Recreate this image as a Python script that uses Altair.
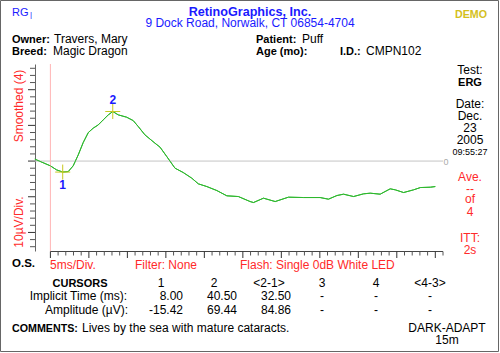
import altair as alt
import pandas as pd

# ---- waveform (ms, µV) ----
time_ms = [-10.1, 0.0, 4.0, 8.0, 11.6, 14.8, 18.1, 21.3, 24.6, 27.8, 31.1, 34.3, 37.6, 40.5, 44.1,
           49.5, 53.8, 57.1, 61.4, 67.9, 71.2, 75.6, 80.9, 86.3, 91.8, 96.1, 101.6, 108.1, 114.6,
           122.1, 129.7, 131.9, 138.4, 146.0, 154.6, 164.4, 175.2, 180.6, 186.1, 190.4, 196.9,
           203.4, 207.7, 214.2, 220.7, 224.0, 229.4, 235.9, 240.3, 246.8, 250.0]
amp_uv = [2.7, -6.7, -12.3, -15.42, -14.7, -6.7, 8.7, 25.9, 39.9, 46.1, 50.7, 57.7, 64.7, 69.44,
          64.7, 61.5, 56.7, 48.3, 36.7, 25.1, 19.5, 6.3, -9.9, -16.1, -23.9, -31.9, -35.7, -41.3,
          -48.7, -49.7, -56.7, -58.1, -52.0, -56.7, -50.6, -51.1, -51.1, -53.4, -48.3, -46.4,
          -49.7, -45.9, -45.0, -46.4, -38.9, -40.3, -44.1, -40.3, -37.1, -36.6, -35.7]

# ---- cursors ----
cursor_ids = ["1", "2"]
cursor_time = [8.00, 40.50]
cursor_amp = [-15.42, 69.44]

# ---- table ----
table_cols = ["1", "2", "<2-1>", "3", "4", "<4-3>"]
implicit_row = ["8.00", "40.50", "32.50", "-", "-", "-"]
amplitude_row = ["-15.42", "69.44", "84.86", "-", "-", "-"]

# ---- ticks: 5 ms/div, 10 µV/div ----
x_minor = [t for t in range(0, 256, 5) if t % 25 != 0]
x_major = [t for t in range(0, 256, 25)]
y_minor = [v for v in range(-120, 131, 10) if v % 50 != 0]
y_major = [v for v in range(-100, 131, 50)]

BLUE = "#1a1aff"
RED = "#ff2a2a"
FONT = "Liberation Sans"
OX, OY = 35, 64
H = 187

wave = pd.DataFrame({"t": time_ms, "a": amp_uv})
cur = pd.DataFrame({"id": cursor_ids, "t": cursor_time, "a": cursor_amp})
one = pd.DataFrame({"k": [0]})

xenc = alt.X("t:Q", scale=alt.Scale(domain=[-10, 255], nice=False, zero=False),
             axis=alt.Axis(labels=False, ticks=False, title=None, domain=False, grid=False))
yenc = alt.Y("a:Q", scale=alt.Scale(domain=[-126, 136], nice=False, zero=False),
             axis=alt.Axis(labels=False, ticks=False, title=None, domain=True, domainColor="#666", grid=False))


def txt(s, x, y, size=12, color="#000", weight="normal", align="left", baseline="alphabetic", angle=0):
    kw = dict(text=s, fontSize=size, color=color, fontWeight=weight, align=align,
              baseline=baseline, font=FONT)
    if angle:
        kw["angle"] = angle
    return alt.Chart(one).mark_text(**kw).encode(x=alt.value(x - OX), y=alt.value(y - OY))


layers = []
# waveform first (defines axes)
layers.append(alt.Chart(wave).mark_line(color="#2eb82e", strokeWidth=1).encode(x=xenc, y=yenc))
# border
layers.append(alt.Chart(one).mark_rect(fillOpacity=0, stroke="#666", strokeWidth=1).encode(
    x=alt.value(0.5 - OX), x2=alt.value(498.5 - OX), y=alt.value(0.5 - OY), y2=alt.value(351.5 - OY)))
# zero line & stimulus line
layers.append(alt.Chart(one).mark_rule(color="#c4c4c4", strokeWidth=1).encode(y=alt.datum(0)))
layers.append(alt.Chart(one).mark_rule(color="#ffb4b4", strokeWidth=1).encode(x=alt.datum(0)))
# x axis line from t=0
layers.append(alt.Chart(one).mark_rule(color="#444", strokeWidth=1).encode(
    x=alt.datum(0), x2=alt.datum(255), y=alt.value(H + 0.5)))
# tick marks
layers.append(alt.Chart(pd.DataFrame({"t": x_minor})).mark_rule(color="#555").encode(
    x=xenc, y=alt.value(H + 0.5), y2=alt.value(H + 4.5)))
layers.append(alt.Chart(pd.DataFrame({"t": x_major})).mark_rule(color="#333").encode(
    x=xenc, y=alt.value(H + 0.5), y2=alt.value(H + 7)))
layers.append(alt.Chart(pd.DataFrame({"a": y_minor})).mark_rule(color="#555").encode(
    y=yenc, x=alt.value(-5), x2=alt.value(0)))
layers.append(alt.Chart(pd.DataFrame({"a": y_major})).mark_rule(color="#333").encode(
    y=yenc, x=alt.value(-7), x2=alt.value(0)))
# redraw waveform on top of grey lines
layers.append(alt.Chart(wave).mark_line(color="#2eb82e", strokeWidth=1).encode(x=xenc, y=yenc))
# cursors
layers.append(alt.Chart(cur).mark_point(shape="M-1,0L1,0M0,-1L0,1", size=225, filled=False,
                                        color="#c8c81e", strokeWidth=1, opacity=1).encode(x=xenc, y=yenc))
layers.append(alt.Chart(cur[cur.id == "1"]).mark_text(fontSize=12, fontWeight="bold", color=BLUE, font=FONT,
                                                      dy=13).encode(x=xenc, y=yenc, text="id:N"))
layers.append(alt.Chart(cur[cur.id == "2"]).mark_text(fontSize=12, fontWeight="bold", color=BLUE, font=FONT,
                                                      dy=-12).encode(x=xenc, y=yenc, text="id:N"))

# header
layers += [
    txt("RG", 12, 16, size=11, color=BLUE),
    txt("|", 30, 17, size=8, color=BLUE),
    txt("RetinoGraphics, Inc.", 250, 16, size=12.6, color=BLUE, weight="bold", align="center"),
    txt("9 Dock Road, Norwalk, CT 06854-4704", 250, 27, size=12, color=BLUE, align="center"),
    txt("DEMO", 471, 18, size=10.7, color="#d4c01c", weight="bold", align="center"),
    txt("Owner:", 12, 43, size=11, weight="bold"), txt("Travers, Mary", 54, 43),
    txt("Breed:", 12, 55, size=11, weight="bold"), txt("Magic Dragon", 53, 55),
    txt("Patient:", 256, 43, size=11, weight="bold"), txt("Puff", 302, 43),
    txt("Age (mo):", 256, 55, size=11, weight="bold"),
    txt("I.D.:", 340, 55, size=11, weight="bold"), txt("CMPN102", 366, 55),
]
# right panel
layers += [
    txt("Test:", 470, 74, align="center"),
    txt("ERG", 470, 86, size=11, weight="bold", align="center"),
    txt("Date:", 470, 108, align="center"),
    txt("Dec.", 470, 120, align="center"),
    txt("23", 470, 132, align="center"),
    txt("2005", 470, 144, align="center"),
    txt("09:55:27", 470, 155, size=9, align="center"),
    txt("0", 446, 165, size=9, color="#aaa", align="center"),
    txt("Ave.", 470, 181, color=RED, align="center"),
    txt("--", 470, 193, color=RED, align="center"),
    txt("of", 470, 203, color=RED, align="center"),
    txt("4", 470, 216, color=RED, align="center"),
    txt("ITT:", 470, 242, color=RED, align="center"),
    txt("2s", 470, 254, color=RED, align="center"),
]
# y labels
layers += [
    txt("Smoothed (4)", 19, 106, color=RED, align="center", baseline="middle", angle=270),
    txt("10µV/Div.", 19, 222, color=RED, align="center", baseline="middle", angle=270),
]
# bottom
layers += [
    txt("O.S.", 12, 267, size=11.5, weight="bold"),
    txt("5ms/Div.", 50, 269, color=RED),
    txt("Filter: None", 135, 269, color=RED),
    txt("Flash: Single 0dB White LED", 240, 269, color=RED),
    txt("CURSORS", 80, 287, size=11, weight="bold", align="center"),
    txt("Implicit Time (ms):", 127, 300, align="right"),
    txt("Amplitude (µV):", 128, 314, align="right"),
    txt("COMMENTS:", 12, 332, size=10.7, weight="bold"),
    txt("Lives by the sea with mature cataracts.", 82, 332),
    txt("DARK-ADAPT", 447, 332, align="center"),
    txt("15m", 447, 344, align="center"),
]
head_x = [161, 214, 269, 322, 376, 430]
val_x = [183, 237, 291, 322, 376, 430]
for i, c in enumerate(table_cols):
    layers.append(txt(c, head_x[i], 287, align="center"))
    al = "right" if implicit_row[i] != "-" else "center"
    layers.append(txt(implicit_row[i], val_x[i], 300, align=al))
    layers.append(txt(amplitude_row[i], val_x[i], 314, align=al))

chart = alt.layer(*layers).properties(
    width=408, height=H,
    padding={"left": 35, "top": 64, "right": 57, "bottom": 102},
    autosize=alt.AutoSizeParams(type="none"),
    background="white",
).configure_view(strokeWidth=0)

chart.save("out.html", embed_options={"renderer": "svg", "actions": False})
